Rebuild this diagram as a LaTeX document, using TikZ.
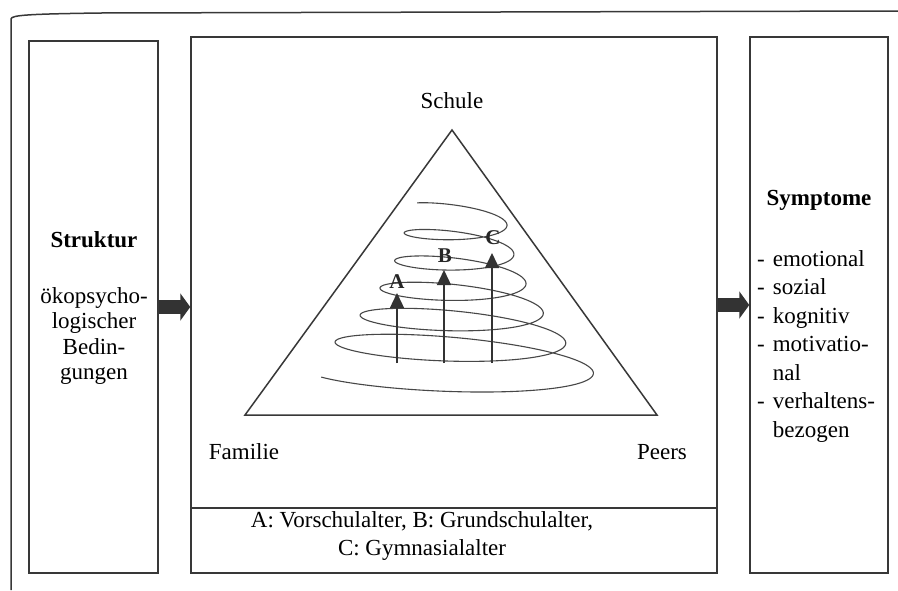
\documentclass[tikz,border=0pt]{standalone}
\usepackage{fontspec}
\setmainfont{Liberation Serif}
\usetikzlibrary{arrows.meta}
\begin{document}
\begin{tikzpicture}[x=1pt,y=-1pt,
  ink/.style={draw=black!78, line width=1.5pt},
  panel/.style={ink, rectangle, inner sep=0pt},
  txt/.style={font=\fontsize{23}{26}\selectfont, inner sep=0pt},
  boldtxt/.style={font=\fontsize{23}{26}\selectfont\bfseries, inner sep=0pt},
  agelabel/.style={font=\fontsize{21}{24}\selectfont\bfseries, inner sep=0pt, text=black!85},
  blockarrow/.style={line width=14pt, draw=black!80, -{Triangle[width=27pt,length=10pt]}},
  spiral/.style={draw=black!72, line width=1.1pt},
  riser/.style={draw=black!80, line width=1.4pt, -{Triangle[width=14pt,length=15pt]}}
]
\fill[white] (0,0) rectangle (898,590);
\useasboundingbox (0,0) rectangle (898,590);

% outer frame, open at the bottom and right
\draw[ink] (11,590) -- (11,19) .. controls (11,15) and (30,14) .. (100,13) -- (898,11);

% three panels
\node[panel, minimum width=129pt, minimum height=532pt] (lbox) at (93.5,307) {};
\node[panel, minimum width=526pt, minimum height=536pt] (mbox) at (454,305) {};
\node[panel, minimum width=526pt, minimum height=65pt] (legend) at (454,540.5) {};
\node[panel, minimum width=138pt, minimum height=536pt] (rbox) at (819,305) {};

% left panel text
\node[boldtxt] (struktur) at (94,240) {Struktur};
\node[txt, align=center, font=\fontsize{23}{25.5}\selectfont] (bed) at (94,336)
  {ökopsycho-\\logischer\\Bedin-\\gungen};

% right panel text
\node[boldtxt] (sym) at (819,200) {Symptome};
\node[txt, anchor=north west] (symlist) at (757,246)
  {\fontsize{23}{28.5}\selectfont
   \begin{tabular}{@{}l@{\hspace{8pt}}l@{}}
   - & emotional\\
   - & sozial\\
   - & kognitiv\\
   - & motivatio-\\
     & nal\\
   - & verhaltens-\\
     & bezogen
   \end{tabular}};

% block arrows between the panels
\draw[blockarrow] (lbox.east) -- (lbox.east -| mbox.west);
\draw[blockarrow] (mbox.east) -- (mbox.east -| rbox.west);

% triangle of the three settings
\coordinate (apex) at (452,130);
\coordinate (bl) at (245,415);
\coordinate (br) at (657,415);
\draw[ink] (apex) -- (bl) -- (br) -- cycle;
\node[txt] (schule) at (452,101) {Schule};
\node[txt] (familie) at (244,452) {Familie};
\node[txt] (peers) at (662,452) {Peers};

% widening helix
\draw[spiral] plot[domain=-145:1955, samples=500, smooth, variable=\t]
  ({457 + (50 + 0.012*\t + (0.00447*\t)^2)*cos(\t)},
   {222 + 0.0790*\t + (10 + 0.0055*\t)*sin(\t) + 0.06*(50 + 0.012*\t + (0.00447*\t)^2)*cos(\t)});

% age arrows
\coordinate (baseA) at (397,363);
\coordinate (baseB) at (444,363);
\coordinate (baseC) at (492,363);
\coordinate (tipA) at (397,293);
\coordinate (tipB) at (444,270);
\coordinate (tipC) at (492,253);
\draw[riser] (baseA) -- (tipA);
\draw[riser] (baseB) -- (tipB);
\draw[riser] (baseC) -- (tipC);
\node[agelabel] (labA) at (397,282) {A};
\node[agelabel] (labB) at (445,256) {B};
\node[agelabel] (labC) at (493,238) {C};

% legend
\node[txt, align=center, font=\fontsize{23}{27.5}\selectfont] (legtext) at (422,536)
  {A: Vorschulalter, B: Grundschulalter,\\C: Gymnasialalter};
\end{tikzpicture}
\end{document}
